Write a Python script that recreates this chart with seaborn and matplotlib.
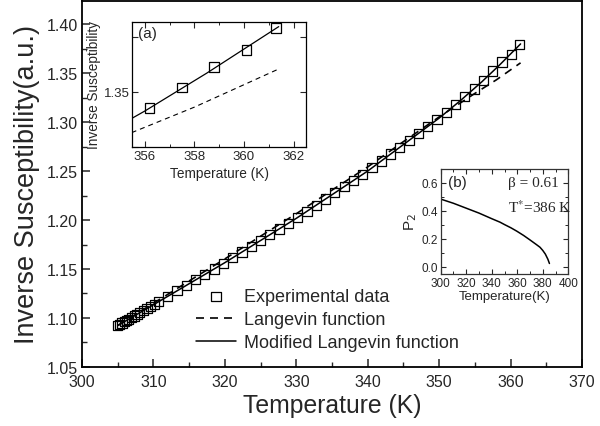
import matplotlib
matplotlib.use("Agg")
import matplotlib.pyplot as plt
from matplotlib.ticker import MultipleLocator, FixedLocator, FormatStrFormatter
import seaborn as sns

# ---------------- data ----------------
exp_T = [305.0, 305.3, 305.6, 305.9, 306.2, 306.5, 306.9, 307.3, 307.7, 308.1,
         308.6, 309.1, 309.6, 310.1, 310.7, 312.0, 313.3, 314.6, 315.9, 317.2,
         318.5, 319.8, 321.1, 322.4, 323.7, 325.0, 326.3, 327.6, 328.9, 330.2,
         331.5, 332.8, 334.1, 335.4, 336.7, 338.0, 339.3, 340.6, 341.9, 343.2,
         344.5, 345.8, 347.1, 348.4, 349.7, 351.0, 352.3, 353.6, 354.9, 356.2,
         357.5, 358.8, 360.1, 361.3]
exp_chi = [1.0923, 1.0936, 1.0948, 1.0961, 1.0974, 1.0986, 1.1003, 1.1020, 1.1037, 1.1054,
           1.1075, 1.1096, 1.1118, 1.1139, 1.1165, 1.1221, 1.1277, 1.1333, 1.1389, 1.1445,
           1.1501, 1.1556, 1.1615, 1.1674, 1.1732, 1.1791, 1.1850, 1.1909, 1.1968, 1.2026,
           1.2088, 1.2151, 1.2214, 1.2277, 1.2340, 1.2403, 1.2466, 1.2532, 1.2603, 1.2673,
           1.2743, 1.2813, 1.2883, 1.2954, 1.3024, 1.3101, 1.3180, 1.3258, 1.3337, 1.3426,
           1.3520, 1.3613, 1.3690, 1.3790]

fit_T = [305, 310, 315, 320, 325, 330, 335, 340, 345, 350, 353, 356, 358.5, 361.4]
mod_langevin = [1.0923, 1.1135, 1.1350, 1.1565, 1.1791, 1.2017, 1.2258, 1.2500, 1.2770,
                1.3040, 1.3220, 1.3412, 1.3585, 1.3797]

lang_T = [305, 310, 315, 320, 325, 330, 335, 340, 345, 350, 355, 358, 361.4]
langevin = [1.0923, 1.1150, 1.1378, 1.1603, 1.1835, 1.2064, 1.2305, 1.2542, 1.2800,
            1.3052, 1.3292, 1.3430, 1.3604]

p2_T = [300, 310, 320, 330, 340, 346.5, 350, 355, 359.6, 365, 370, 375, 377.8, 380, 382, 384, 385.2]
p2 = [0.485, 0.455, 0.42, 0.385, 0.345, 0.32, 0.303, 0.28, 0.256, 0.225, 0.193, 0.16,
      0.141, 0.118, 0.092, 0.055, 0.025]

main_xticks = [300, 310, 320, 330, 340, 350, 360, 370]
main_yticks = [1.05, 1.10, 1.15, 1.20, 1.25, 1.30, 1.35, 1.40]

# ---------------- style ----------------
sns.set_theme(style="ticks")
plt.rcParams['font.family'] = ['Liberation Sans', 'DejaVu Sans']
plt.rcParams['xtick.direction'] = 'in'
plt.rcParams['ytick.direction'] = 'in'

fig = plt.figure(figsize=(6, 4.27), dpi=100)
ax = fig.add_axes([0.1367, 0.1382, 0.8333, 0.8571])

sns.lineplot(x=lang_T, y=langevin, ax=ax, color='black', lw=1.2,
             label='Langevin function', estimator=None)
ax.lines[-1].set_dashes((4.8, 3.6))
sns.lineplot(x=fit_T, y=mod_langevin, ax=ax, color='black', lw=1.1,
             label='Modified Langevin function', estimator=None)
sns.scatterplot(x=exp_T, y=exp_chi, ax=ax, marker='s', s=44, facecolor='none',
                edgecolor='black', linewidth=0.9, label='Experimental data', zorder=3)

ax.set_xlim(300, 370)
ax.set_ylim(1.05, 1.4235)
ax.xaxis.set_major_locator(FixedLocator(main_xticks))
ax.yaxis.set_major_locator(FixedLocator(main_yticks))
ax.xaxis.set_minor_locator(MultipleLocator(5))
ax.yaxis.set_minor_locator(MultipleLocator(0.025))
ax.yaxis.set_major_formatter(FormatStrFormatter('%.2f'))
ax.tick_params(which='major', length=6, width=1.1, labelsize=11.5)
ax.tick_params(axis='x', which='major', pad=5)
ax.tick_params(axis='y', which='major', pad=3)
ax.tick_params(which='minor', length=3.5, width=1.0)
for s in ax.spines.values():
    s.set_linewidth(1.3)
    s.set_color('black')
ax.set_xlabel('Temperature (K)', fontsize=17.8, labelpad=3)
ax.set_ylabel('Inverse Susceptibility(a.u.)', fontsize=19.5, labelpad=5)

h, l = ax.get_legend_handles_labels()
order = [l.index('Experimental data'), l.index('Langevin function'),
         l.index('Modified Langevin function')]
ax.legend([h[i] for i in order], [l[i] for i in order], loc='upper left',
          bbox_to_anchor=(0.327, 0.323), bbox_transform=fig.transFigure,
          frameon=False, fontsize=13, handlelength=2.2, handletextpad=0.45,
          labelspacing=0.34, borderpad=0, borderaxespad=0, scatterpoints=1)

# ---------------- inset (a) ----------------
axa = fig.add_axes([0.2205, 0.6527, 0.2895, 0.2944])
sns.lineplot(x=lang_T, y=langevin, ax=axa, color='black', lw=0.8, estimator=None)
axa.lines[-1].set_dashes((4.5, 3.6))
sns.lineplot(x=fit_T, y=mod_langevin, ax=axa, color='black', lw=0.9, estimator=None)
sns.scatterplot(x=exp_T, y=exp_chi, ax=axa, marker='s', s=48, facecolor='none',
                edgecolor='black', linewidth=0.9, zorder=3, clip_on=True)
axa.set_xlim(355.5, 362.5)
axa.set_ylim(1.3247, 1.382)
axa.xaxis.set_major_locator(MultipleLocator(2))
axa.xaxis.set_minor_locator(MultipleLocator(1))
axa.yaxis.set_major_locator(FixedLocator([1.325, 1.35, 1.375]))
axa.set_yticklabels(['', '1.35', ''])
axa.tick_params(which='both', top=True, right=True, labelsize=9.5, pad=2)
axa.tick_params(which='major', length=4, width=0.8)
axa.tick_params(which='minor', length=2.5, width=0.7)
for s in axa.spines.values():
    s.set_linewidth(0.9)
    s.set_color('black')
axa.set_xlabel('Temperature (K)', fontsize=9.8, labelpad=3)
axa.set_ylabel('Inverse Susceptibility', fontsize=9.8, labelpad=2)
axa.text(0.03, 0.91, '(a)', transform=axa.transAxes, fontsize=11, va='center', ha='left')

# ---------------- inset (b) ----------------
axb = fig.add_axes([0.7345, 0.356, 0.2127, 0.2459])
sns.lineplot(x=p2_T, y=p2, ax=axb, color='black', lw=1.1, estimator=None)
axb.set_xlim(300, 400)
axb.set_ylim(-0.05, 0.70)
axb.xaxis.set_major_locator(MultipleLocator(20))
axb.xaxis.set_minor_locator(MultipleLocator(10))
axb.yaxis.set_major_locator(FixedLocator([0.0, 0.2, 0.4, 0.6]))
axb.yaxis.set_minor_locator(MultipleLocator(0.1))
axb.yaxis.set_major_formatter(FormatStrFormatter('%.1f'))
axb.tick_params(which='both', top=True, right=True, labelsize=8.5, pad=2)
axb.tick_params(which='major', length=3.5, width=0.8)
axb.tick_params(which='minor', length=2, width=0.7)
for s in axb.spines.values():
    s.set_linewidth(0.9)
    s.set_color('#333333')
axb.set_xlabel('Temperature(K)', fontsize=9.5, labelpad=1)
axb.set_ylabel('P$_2$', fontsize=11, labelpad=2, math_fontfamily='dejavusans')
axb.text(0.057, 0.876, '(b)', transform=axb.transAxes, fontsize=11, va='center', ha='left')
axb.text(0.527, 0.876, 'β = 0.61', transform=axb.transAxes, fontsize=11,
         va='center', ha='left', family=['Liberation Serif', 'DejaVu Serif'])
axb.text(0.527, 0.64, 'T$^{*}$=386 K', transform=axb.transAxes, fontsize=11,
         va='center', ha='left', family=['Liberation Serif', 'DejaVu Serif'],
         math_fontfamily='stix')

fig.savefig('out.png', dpi=100)
